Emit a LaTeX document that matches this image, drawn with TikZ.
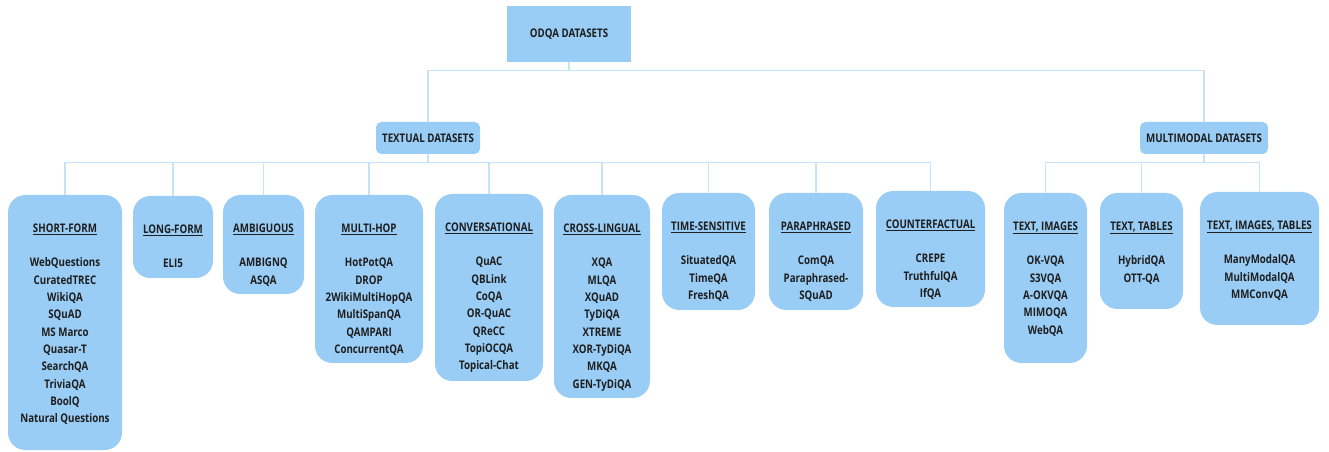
\documentclass[tikz,border=0pt]{standalone}
\usepackage{fontspec}
\newfontfamily\lblfont{Open Sans}[FakeStretch=0.82]
\usetikzlibrary{fit,calc}
\definecolor{boxblue}{HTML}{99CDF5}
\definecolor{lineblue}{HTML}{C6E3F8}
\definecolor{txt}{HTML}{1E1E1E}
\tikzset{
  box/.style={fill=boxblue, draw=none, inner sep=0pt, rounded corners=13pt},
  topbox/.style={fill=boxblue, draw=none, inner sep=0pt},
  midbox/.style={fill=boxblue, draw=none, inner sep=0pt, rounded corners=4pt},
  lbl/.style={inner sep=0pt, align=center, text=txt, font=\lblfont\bfseries\fontsize{8.9}{13}\selectfont},
  conn/.style={draw=lineblue, line width=0.8pt},
}
\newcommand\catbox[6]{%
  \node[box, fit={(#2,#3)(#4,#5)}] (#1) {};
  \node[lbl, anchor=north] (#1-t) at ($(#1.north)+(0,28.5)$) {#6};
}
\begin{document}
\begin{tikzpicture}[x=0.75pt,y=-0.75pt]
\useasboundingbox (0,0) rectangle (1329,452);
% top levels
\node[topbox, fit={(507,6)(631,62)}] (odqa) {};
\node[lbl] (odqa-t) at (odqa.center) {ODQA DATASETS};
\node[midbox, fit={(376,122)(480,154)}] (textual) {};
\node[lbl] (textual-t) at (textual.center) {TEXTUAL DATASETS};
\node[midbox, fit={(1140,122)(1268,154)}] (multi) {};
\node[lbl] (multi-t) at (multi.center) {MULTIMODAL DATASETS};
% textual children
\catbox{short}{8}{195}{122}{450}{\underline{SHORT-FORM}\\[13pt]WebQuestions\\CuratedTREC\\WikiQA\\SQuAD\\MS Marco\\Quasar-T\\SearchQA\\TriviaQA\\BoolQ\\Natural Questions}
\catbox{long}{133}{196}{213}{278}{\underline{LONG-FORM}\\[13pt]ELI5}
\catbox{amb}{223}{195}{304}{294}{\underline{AMBIGUOUS}\\[13pt]AMBIGNQ\\ASQA}
\catbox{hop}{315}{195}{423}{363}{\underline{MULTI-HOP}\\[13pt]HotPotQA\\DROP\\2WikiMultiHopQA\\MultiSpanQA\\QAMPARI\\ConcurrentQA}
\catbox{conv}{435}{194}{543}{381}{\underline{CONVERSATIONAL}\\[13pt]QuAC\\QBLink\\CoQA\\OR-QuAC\\QReCC\\TopiOCQA\\Topical-Chat}
\catbox{cross}{554}{195}{650}{398}{\underline{CROSS-LINGUAL}\\[13pt]XQA\\MLQA\\XQuAD\\TyDiQA\\XTREME\\XOR-TyDiQA\\MKQA\\GEN-TyDiQA}
\catbox{time}{662}{193}{755}{310}{\underline{TIME-SENSITIVE}\\[13pt]SituatedQA\\TimeQA\\FreshQA}
\catbox{para}{769}{193}{863}{310}{\underline{PARAPHRASED}\\[13pt]ComQA\\Paraphrased-\\SQuAD}
\catbox{counter}{876}{191}{985}{307}{\underline{COUNTERFACTUAL}\\[13pt]CREPE\\TruthfulQA\\IfQA}
% multimodal children
\catbox{ti}{1004}{193}{1087}{363}{\underline{TEXT, IMAGES}\\[13pt]OK-VQA\\S3VQA\\A-OKVQA\\MIMOQA\\WebQA}
\catbox{tt}{1100}{193}{1183}{309}{\underline{TEXT, TABLES}\\[13pt]HybridQA\\OTT-QA}
\catbox{tit}{1200}{192}{1319}{325}{\underline{TEXT, IMAGES, TABLES}\\[13pt]ManyModalQA\\MultiModalQA\\MMConvQA}
% connectors
\draw[conn] (odqa.south) -- ++(0,8) -| (textual.north);
\draw[conn] (odqa.south) -- ++(0,8) -| (multi.north);
\foreach \c in {short,long,amb,hop,conv,cross,time,para,counter}
  \draw[conn] (textual.south) -- ++(0,8) -| (\c.north);
\foreach \c in {ti,tt,tit}
  \draw[conn] (multi.south) -- ++(0,8) -| (\c.north);
\end{tikzpicture}
\end{document}
